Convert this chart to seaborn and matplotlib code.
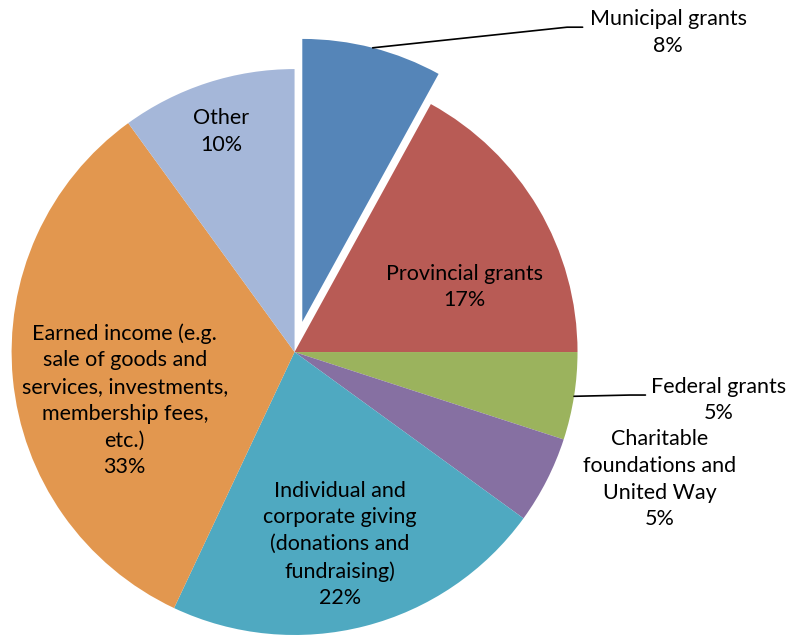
import numpy as np
import seaborn as sns
import matplotlib.pyplot as plt

# data
labels = ['Municipal grants', 'Provincial grants', 'Federal grants',
          'Charitable\nfoundations and\nUnited Way',
          'Individual and\ncorporate giving\n(donations and\nfundraising)',
          'Earned income (e.g.\nsale of goods and\nservices, investments,\nmembership fees,\netc.)',
          'Other']
values = [8, 17, 5, 5, 22, 33, 10]
colors = ['#5585B8', '#B85B55', '#9BB35D', '#8670A2', '#4FA9C1', '#E2974F', '#A5B7D9']
explode = [0.11, 0, 0, 0, 0, 0, 0]

# label text positions (axes data units, pie radius = 1)
label_xy = [(1.32, 1.13), (0.60, 0.23), (1.50, -0.17), (1.29, -0.45),
            (0.16, -0.68), (-0.60, -0.17), (-0.26, 0.78)]

sns.set_theme(style='white')
plt.rcParams['font.family'] = ['Lato', 'DejaVu Sans']

fig = plt.figure(figsize=(7.92, 6.37), dpi=100)
ax = fig.add_axes([0, 0, 1, 1])

wedges, _ = ax.pie(values, colors=colors, explode=explode, startangle=90,
                   counterclock=False, radius=1,
                   wedgeprops=dict(linewidth=0))

for lab, v, (x, y) in zip(labels, values, label_xy):
    ax.text(x, y, f'{lab}\n{v}%', ha='center', va='center',
            fontsize=15.5, color='black', linespacing=1.42)

# leader lines for outside labels
for i, (tx, ty) in [(0, (0.963, 1.148)), (2, (1.185, -0.152))]:
    w = wedges[i]
    mid = np.deg2rad((w.theta1 + w.theta2) / 2)
    cx, cy = w.center
    sx, sy = cx + w.r * np.cos(mid), cy + w.r * np.sin(mid)
    ax.plot([sx, tx, tx + 0.055], [sy, ty, ty], color='black', lw=1.2)

ax.set_xlim(-1.041, 1.758)
ax.set_ylim(-1.007, 1.244)
ax.set_aspect('equal', adjustable='box')
ax.axis('off')

fig.savefig('out.png', dpi=100)
